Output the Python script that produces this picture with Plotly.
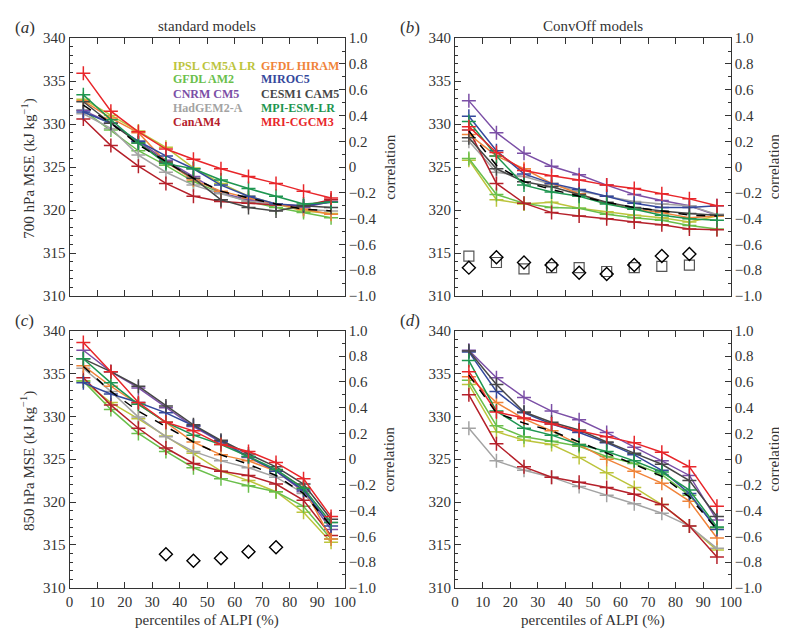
import plotly.graph_objects as go

PCT = [5, 15, 25, 35, 45, 55, 65, 75, 85, 95]
X_TICKS = [0, 10, 20, 30, 40, 50, 60, 70, 80, 90, 100]
CORR_TICKS = [-1.0, -0.8, -0.6, -0.4, -0.2, 0.0, 0.2, 0.4, 0.6, 0.8, 1.0]
CORR_LABELS = ["−1.0", "−0.8", "−0.6", "−0.4", "−0.2", "0", "0.2", "0.4", "0.6", "0.8", "1.0"]

MODELS = ["IPSL CM5A LR", "GFDL AM2", "CNRM CM5", "HadGEM2-A", "CanAM4",
          "GFDL HIRAM", "MIROC5", "CESM1 CAM5", "MPI-ESM-LR", "MRI-CGCM3"]
COLORS = {"IPSL CM5A LR": "#bcc43c", "GFDL AM2": "#6abf4b", "CNRM CM5": "#7b4fa6",
          "HadGEM2-A": "#a3a3a3", "CanAM4": "#b5202a", "GFDL HIRAM": "#f0843a",
          "MIROC5": "#34489c", "CESM1 CAM5": "#474747", "MPI-ESM-LR": "#1e9650",
          "MRI-CGCM3": "#e8262a"}

# (a) 700 hPa, standard models
MSE700_STD = {
    "IPSL CM5A LR": [332.9, 331.0, 329.2, 327.3, 324.9, 323.1, 321.6, 320.7, 319.9, 319.6],
    "GFDL AM2":     [331.6, 329.3, 326.9, 325.2, 323.3, 322.0, 321.0, 320.3, 319.7, 319.1],
    "CNRM CM5":     [331.6, 330.1, 328.0, 325.8, 323.9, 322.0, 321.2, 320.7, 320.3, 321.0],
    "HadGEM2-A":    [331.2, 329.5, 326.4, 324.4, 322.9, 321.9, 321.0, 320.7, 320.1, 319.9],
    "CanAM4":       [330.6, 327.5, 325.1, 323.1, 321.6, 321.0, 320.8, 320.6, 320.5, 321.2],
    "GFDL HIRAM":   [332.7, 330.7, 329.0, 325.6, 323.5, 322.2, 321.4, 320.7, 320.1, 319.5],
    "MIROC5":       [331.4, 330.1, 328.0, 326.3, 324.8, 322.9, 321.6, 320.7, 320.5, 320.9],
    "CESM1 CAM5":   [332.6, 330.1, 327.8, 325.6, 323.7, 321.2, 320.3, 319.9, 320.5, 320.3],
    "MPI-ESM-LR":   [333.4, 330.5, 327.8, 325.4, 324.8, 323.5, 322.5, 321.6, 320.7, 320.9],
    "MRI-CGCM3":    [335.9, 331.5, 329.1, 327.1, 325.9, 324.8, 323.9, 323.1, 322.2, 321.4],
}
MEAN700_STD = [332.2, 330.1, 327.6, 325.6, 323.7, 322.2, 321.4, 320.7, 320.1, 319.9]

# (b) 700 hPa, ConvOff models
MSE700_OFF = {
    "IPSL CM5A LR": [325.8, 321.2, 320.7, 320.9, 320.2, 319.8, 319.4, 319.1, 318.6, 319.3],
    "GFDL AM2":     [326.0, 321.8, 320.8, 320.3, 320.2, 319.5, 319.1, 318.8, 318.2, 317.8],
    "CNRM CM5":     [332.7, 329.0, 326.6, 325.1, 324.1, 322.9, 321.8, 321.1, 320.5, 319.4],
    "HadGEM2-A":    [328.0, 324.4, 323.9, 323.0, 322.2, 321.6, 321.0, 320.7, 320.5, 319.5],
    "CanAM4":       [329.3, 323.1, 320.8, 319.7, 319.3, 319.0, 318.6, 318.3, 317.8, 317.7],
    "GFDL HIRAM":   [328.8, 326.3, 324.8, 323.1, 321.9, 320.8, 320.1, 319.7, 319.1, 319.3],
    "MIROC5":       [330.9, 326.9, 324.2, 323.1, 322.4, 321.6, 320.8, 320.3, 320.3, 320.5],
    "CESM1 CAM5":   [328.4, 324.8, 323.3, 322.7, 321.8, 320.9, 320.3, 319.9, 319.6, 319.4],
    "MPI-ESM-LR":   [330.3, 326.3, 322.9, 322.1, 321.6, 320.7, 320.1, 319.4, 319.0, 318.8],
    "MRI-CGCM3":    [329.7, 326.7, 324.6, 324.0, 323.5, 322.9, 322.5, 321.9, 321.3, 320.5],
}
MEAN700_OFF = [329.2, 325.2, 323.3, 322.4, 321.6, 320.9, 320.3, 319.9, 319.4, 319.3]
CORR_SQ_B = [-0.69, -0.74, -0.79, -0.78, -0.78, -0.81, -0.78, -0.77, -0.76]
CORR_DI_B = [-0.78, -0.70, -0.74, -0.76, -0.82, -0.83, -0.76, -0.69, -0.675]
PCT_CORR_B = [5, 15, 25, 35, 45, 55, 65, 75, 85]

# (c) 850 hPa, standard models
MSE850_STD = {
    "IPSL CM5A LR": [334.1, 331.6, 329.7, 327.7, 325.7, 323.6, 322.5, 321.2, 318.8, 315.3],
    "GFDL AM2":     [334.1, 330.8, 328.0, 325.9, 324.0, 322.7, 321.9, 321.2, 319.5, 315.7],
    "CNRM CM5":     [337.7, 335.2, 333.3, 331.0, 328.8, 327.0, 325.2, 323.6, 321.2, 316.8],
    "HadGEM2-A":    [335.6, 332.9, 329.9, 327.6, 325.9, 324.8, 324.0, 322.9, 321.0, 317.6],
    "CanAM4":       [334.5, 331.3, 328.6, 326.3, 324.5, 323.6, 323.1, 322.1, 320.2, 316.1],
    "GFDL HIRAM":   [335.9, 333.5, 331.4, 329.3, 327.0, 325.5, 324.8, 323.6, 321.7, 315.7],
    "MIROC5":       [333.9, 332.6, 331.6, 330.4, 328.9, 327.1, 325.3, 323.6, 321.4, 317.2],
    "CESM1 CAM5":   [336.7, 335.2, 333.5, 331.2, 329.0, 327.2, 325.6, 324.1, 322.1, 318.0],
    "MPI-ESM-LR":   [336.7, 333.9, 331.4, 329.3, 327.8, 326.7, 325.3, 323.8, 321.6, 317.6],
    "MRI-CGCM3":    [338.6, 335.2, 331.6, 329.3, 328.3, 326.7, 325.9, 324.6, 322.7, 318.3],
}
MEAN850_STD = [335.8, 332.9, 330.6, 328.8, 327.0, 325.5, 324.4, 323.1, 321.0, 317.2]
CORR_DI_C = [-0.74, -0.79, -0.77, -0.72, -0.685]
PCT_CORR_C = [35, 45, 55, 65, 75]

# (d) 850 hPa, ConvOff models
MSE850_OFF = {
    "IPSL CM5A LR": [333.7, 328.2, 327.2, 326.7, 325.2, 323.4, 321.7, 319.7, 317.2, 314.4],
    "GFDL AM2":     [334.2, 328.9, 327.6, 327.1, 326.5, 325.3, 324.5, 323.2, 320.8, 317.0],
    "CNRM CM5":     [337.7, 334.5, 332.2, 330.6, 329.6, 328.1, 326.4, 324.8, 323.1, 317.9],
    "HadGEM2-A":    [328.6, 324.8, 323.7, 322.9, 321.8, 320.8, 319.8, 318.7, 317.2, 314.6],
    "CanAM4":       [332.5, 326.8, 324.1, 322.9, 322.3, 321.7, 320.9, 319.7, 317.2, 313.6],
    "GFDL HIRAM":   [334.6, 331.6, 329.7, 328.3, 326.7, 325.0, 323.6, 322.2, 320.1, 315.8],
    "MIROC5":       [337.5, 332.9, 330.4, 329.1, 328.1, 326.9, 325.5, 323.7, 321.0, 316.8],
    "CESM1 CAM5":   [337.6, 333.7, 330.5, 329.3, 328.4, 327.0, 325.7, 324.4, 322.5, 318.3],
    "MPI-ESM-LR":   [336.5, 330.6, 328.6, 327.8, 326.7, 325.9, 324.8, 323.5, 321.4, 317.1],
    "MRI-CGCM3":    [335.2, 330.5, 329.8, 329.1, 328.3, 327.6, 326.9, 325.8, 324.1, 319.5],
}
MEAN850_OFF = [334.8, 330.4, 329.2, 328.3, 327.0, 325.7, 324.4, 323.0, 320.6, 316.8]

FONT = "Liberation Serif, Tinos, Times New Roman, Noto Serif, DejaVu Serif, serif"
W, H = 787, 630

fig = go.Figure()

panels = [
    (MSE700_STD, MEAN700_STD, "x", "y"),
    (MSE700_OFF, MEAN700_OFF, "x2", "y2"),
    (MSE850_STD, MEAN850_STD, "x3", "y3"),
    (MSE850_OFF, MEAN850_OFF, "x4", "y4"),
]
for data, mean, xa, ya in panels:
    for m in MODELS:
        c = COLORS[m]
        fig.add_trace(go.Scatter(
            x=PCT, y=data[m], xaxis=xa, yaxis=ya, mode="lines+markers",
            line=dict(color=c, width=1.5),
            marker=dict(symbol="cross-thin", size=10, line=dict(color=c, width=1.5)),
            showlegend=False, name=m))
    fig.add_trace(go.Scatter(
        x=PCT, y=mean, xaxis=xa, yaxis=ya, mode="lines",
        line=dict(color="black", width=1.5, dash="dash"), showlegend=False, name="mean"))

# correlation markers
fig.add_trace(go.Scatter(x=PCT_CORR_B, y=CORR_SQ_B, xaxis="x2", yaxis="y6", mode="markers",
                         marker=dict(symbol="square-open", size=10, color="#555555",
                                     line=dict(width=1.2)), showlegend=False))
fig.add_trace(go.Scatter(x=PCT_CORR_B, y=CORR_DI_B, xaxis="x2", yaxis="y6", mode="markers",
                         marker=dict(symbol="diamond-open", size=10, color="black",
                                     line=dict(width=1.4)), showlegend=False))
fig.add_trace(go.Scatter(x=PCT_CORR_C, y=CORR_DI_C, xaxis="x3", yaxis="y7", mode="markers",
                         marker=dict(symbol="diamond-open", size=10, color="black",
                                     line=dict(width=1.4)), showlegend=False))
# invisible traces so the right axes of panels a and d are drawn
fig.add_trace(go.Scatter(x=[50], y=[0], xaxis="x", yaxis="y5", mode="markers",
                         marker=dict(opacity=0), showlegend=False, hoverinfo="skip"))
fig.add_trace(go.Scatter(x=[50], y=[0], xaxis="x4", yaxis="y8", mode="markers",
                         marker=dict(opacity=0), showlegend=False, hoverinfo="skip"))

XD = [(58.7 / W, 339.3 / W), (451.7 / W, 732.7 / W)]
YD = [(1 - 287.3 / H, 1 - 22.7 / H), (1 - 586.7 / H, 1 - 322.7 / H)]
tickfont = dict(family=FONT, size=15, color="#333333")

def xaxis(col, row, bottom):
    return dict(domain=XD[col], range=[0, 100], tickvals=X_TICKS,
                showticklabels=bottom, ticks="inside", ticklen=6, tickcolor="#333",
                showline=True, linecolor="#333", linewidth=1, mirror="ticks",
                showgrid=False, zeroline=False, tickfont=tickfont,
                anchor=["y", "y2", "y3", "y4"][row * 2 + col])

def yleft(col, row, xa):
    return dict(domain=YD[row], range=[310, 340], dtick=5, tick0=310, anchor=xa,
                ticks="inside", ticklen=6, tickcolor="#333", showline=True,
                linecolor="#333", linewidth=1, showgrid=False, zeroline=False,
                tickfont=tickfont, minor=dict(dtick=1, ticks="inside", ticklen=3,
                                              tickcolor="#333", showgrid=False))

def yright(ov, xa):
    return dict(overlaying=ov, side="right", anchor=xa, range=[-1, 1],
                tickvals=CORR_TICKS, ticktext=CORR_LABELS,
                ticks="inside", ticklen=6, tickcolor="#333", showline=True,
                linecolor="#333", linewidth=1, showgrid=False, zeroline=False,
                tickfont=tickfont,
                minor=dict(dtick=0.1, tick0=-1, ticks="inside", ticklen=3,
                           tickcolor="#333", showgrid=False))

fig.update_layout(
    width=W, height=H, margin=dict(l=0, r=0, t=0, b=0),
    paper_bgcolor="white", plot_bgcolor="white",
    font=dict(family=FONT, color="#333333"),
    xaxis=xaxis(0, 0, False), xaxis2=xaxis(1, 0, False),
    xaxis3=xaxis(0, 1, True), xaxis4=xaxis(1, 1, True),
    yaxis=yleft(0, 0, "x"), yaxis2=yleft(1, 0, "x2"),
    yaxis3=yleft(0, 1, "x3"), yaxis4=yleft(1, 1, "x4"),
    yaxis5=yright("y", "x"), yaxis6=yright("y2", "x2"),
    yaxis7=yright("y3", "x3"), yaxis8=yright("y4", "x4"),
)

ann = []
def txt(x, y, s, size=15, angle=0, xanchor="center"):
    ann.append(dict(x=x / W, y=1 - y / H, xref="paper", yref="paper", text=s,
                    showarrow=False, textangle=angle, xanchor=xanchor, yanchor="middle",
                    font=dict(family=FONT, size=size, color="#333333")))

txt(199, 10, "standard models")
txt(592, 10, "ConvOff models")
txt(13, 12, "(<i>a</i>)", size=17)
txt(406, 12, "(<i>b</i>)", size=17)
txt(13, 312, "(<i>c</i>)", size=17)
txt(406, 312, "(<i>d</i>)", size=17)
txt(16, 157, "700 hPa MSE (kJ kg<sup>−1</sup>)", angle=-90)
txt(16, 457, "850 hPa MSE (kJ kg<sup>−1</sup>)", angle=-90)
for xx in (385, 777):
    txt(xx, 155, "correlation", angle=-90)
    txt(xx, 455, "correlation", angle=-90)
txt(199, 620, "percentiles of ALPI (%)")
txt(592, 620, "percentiles of ALPI (%)")

# model name legend (colored text)
rows = [51, 65, 80, 94, 109]
for i, m in enumerate(MODELS):
    col = i // 5
    xx = 162.5 if col == 0 else 251.5
    ann.append(dict(x=xx / W, y=1 - rows[i % 5] / H, xref="paper", yref="paper",
                    text="<b>" + m + "</b>", showarrow=False, xanchor="left",
                    yanchor="middle", font=dict(family=FONT, size=12, color=COLORS[m])))

fig.update_layout(annotations=ann)
fig.write_html("out.html")
